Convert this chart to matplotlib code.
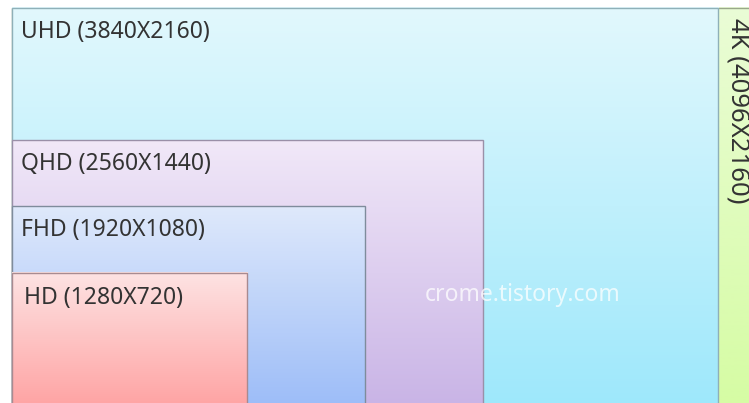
import matplotlib
matplotlib.use("Agg")
import matplotlib.pyplot as plt
import numpy as np
from matplotlib.patches import Rectangle
from matplotlib.colors import LinearSegmentedColormap

names = ["4K", "UHD", "QHD", "FHD", "HD"]
widths = [4096, 3840, 2560, 1920, 1280]
heights = [2160, 2160, 1440, 1080, 720]
top_colors = ["#eafcd6", "#e2f8fd", "#f1e8f8", "#dfe9fb", "#fde3e3"]
bottom_colors = ["#d6fca4", "#9ee8fb", "#c9b4e6", "#9dbdf8", "#ffa4a4"]
edge_colors = ["#9aa88a", "#8fb0b8", "#9a90a8", "#7f8c9c", "#a88a90"]
watermark = "crome.tistory.com"

W, H, DPI = 749, 403, 100
s = 0.1839  # pixels per resolution unit
left_px, bottom_px = 12, 405

fig = plt.figure(figsize=(W / DPI, H / DPI), dpi=DPI)
ax = fig.add_axes([0, 0, 1, 1])
ax.set_xlim(-left_px / s, (W - left_px) / s)
ax.set_ylim((bottom_px - H) / s, bottom_px / s)
ax.axis("off")

font = ["Noto Sans", "DejaVu Sans"]
fs = 16.5

for i, (n, w, h) in enumerate(zip(names, widths, heights)):
    cmap = LinearSegmentedColormap.from_list(n, [bottom_colors[i], top_colors[i]])
    grad = np.linspace(0, 1, 256).reshape(-1, 1)
    ax.imshow(grad, extent=(0, w, 0, h), origin="lower", cmap=cmap,
              aspect="auto", zorder=2 * i + 1, interpolation="bilinear")
    ax.add_patch(Rectangle((0, 0), w, h, fill=False, edgecolor=edge_colors[i],
                           linewidth=1.0, zorder=2 * i + 1.5))
    label = f"{n} ({w}X{h})"
    if n == "4K":
        ax.annotate(label, xy=(widths[1], h), xytext=(7, -10),
                    textcoords="offset pixels", rotation=-90, ha="left",
                    va="top", fontsize=18.5, color="#333333", family=font,
                    zorder=20)
    else:
        ax.annotate(label, xy=(0, h), xytext=(9 if n != "HD" else 12,
                                              -12 if n != "HD" else -13),
                    textcoords="offset pixels", ha="left", va="top",
                    fontsize=fs, color="#333333", family=font, zorder=20)

ax.text((523 - left_px) / s, (bottom_px - 295) / s, watermark, ha="center",
        va="center", fontsize=fs, color="white", alpha=0.75, family=font,
        zorder=30)

fig.savefig("out.png", dpi=DPI)
